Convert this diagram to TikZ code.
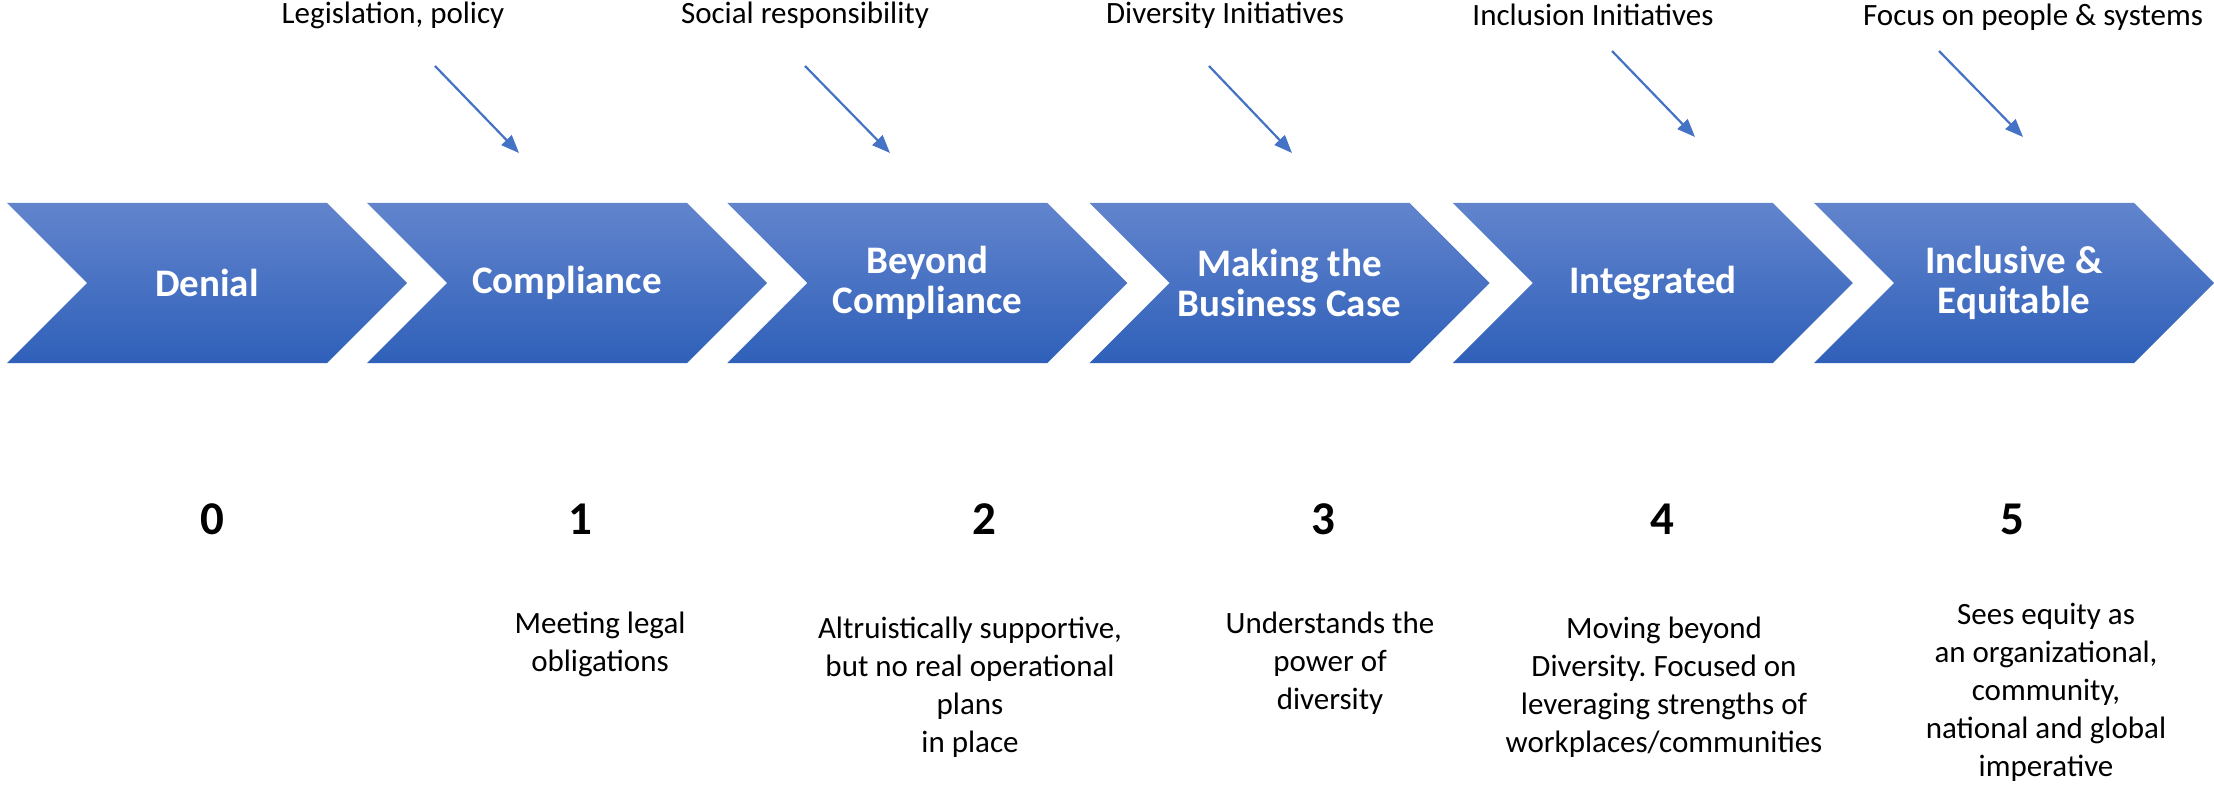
\documentclass[tikz,border=0pt]{standalone}
\usepackage{fontspec}
\setmainfont{Carlito}
\frenchspacing
\usepackage{tikz}
\usetikzlibrary{arrows.meta,shapes.symbols}
\definecolor{chevtop}{RGB}{98,132,205}
\definecolor{chevbot}{RGB}{47,96,185}
\definecolor{arrblue}{RGB}{68,114,196}
\tikzset{
  chev_n/.style = {signal, signal from=west, signal to=east,
    signal pointer angle=90, minimum width=200pt, minimum height=80pt,
    inner sep=0pt, top color=chevtop, bottom color=chevbot, text=white,
    align=center, font=\fontsize{19.5}{20}\selectfont\bfseries},% stage chevron
  lbl_top/.style = {anchor=base, inner sep=0pt,
    font=\fontsize{15.5}{19}\selectfont},% driver above the chevrons
  lbl_num/.style = {inner sep=0pt, font=\fontsize{23.5}{28}\selectfont\bfseries},% stage number
  lbl_txt/.style = {anchor=north, inner sep=0pt, align=center,
    font=\fontsize{15.5}{19}\selectfont}% stage description
}

\begin{document}
\begin{tikzpicture}[x=0.5pt,y=-0.5pt,>={Triangle[length=9pt,width=7pt]}]
    \useasboundingbox (0,0) rectangle (2214,786);
    % chevrons
    \node [chev_n] (denial) at (207,283) {Denial};
    \node [chev_n] (compl)  at (567,283) {Compliance};
    \node [chev_n] (beyond) at (927.4,283) {Beyond\\Compliance};
    \node [chev_n] (bcase)  at (1289.6,283) {Making the\\Business Case};
    \node [chev_n] (integ)  at (1652.8,283) {Integrated};
    \node [chev_n] (incl)   at (2014,283) {Inclusive \&\\Equitable};
    % drivers
    \node [lbl_top] (legis)  at (393,24) {Legislation, policy};
    \node [lbl_top] (social) at (805,24) {Social responsibility};
    \node [lbl_top] (divin)  at (1225,24) {Diversity Initiatives};
    \node [lbl_top] (inclin) at (1593,26) {Inclusion Initiatives};
    \node [lbl_top] (focus)  at (2033,26) {Focus on people \& systems};
    \coordinate (a1s) at (435,66);   \coordinate (a1e) at (519,153);
    \coordinate (a2s) at (805,66);   \coordinate (a2e) at (890,153);
    \coordinate (a3s) at (1209,66);  \coordinate (a3e) at (1292,153);
    \coordinate (a4s) at (1612,51);  \coordinate (a4e) at (1695,137);
    \coordinate (a5s) at (1939,51);  \coordinate (a5e) at (2023,137);
    \foreach \a in {a1,a2,a3,a4,a5}
      \draw [->, arrblue, line width=1.1pt] (\a s) -- (\a e);
    % numbers
    \node [lbl_num] (n0) at (212,519) {0};
    \node [lbl_num] (n1) at (580,519) {1};
    \node [lbl_num] (n2) at (984,519) {2};
    \node [lbl_num] (n3) at (1323,519) {3};
    \node [lbl_num] (n4) at (1662,519) {4};
    \node [lbl_num] (n5) at (2012,519) {5};
    % descriptions
    \node [lbl_txt] (d1) at (600,612) {Meeting legal\\obligations};
    \node [lbl_txt] (d2) at (970,617) {Altruistically supportive,\\but no real operational\\plans\\in place};
    \node [lbl_txt] (d3) at (1330,612) {Understands the\\power of\\diversity};
    \node [lbl_txt] (d4) at (1664,617) {Moving beyond\\Diversity. Focused on\\leveraging strengths of\\workplaces/communities};
    \node [lbl_txt] (d5) at (2046,603) {Sees equity as\\an organizational,\\community,\\national and global\\imperative};
\end{tikzpicture}
\end{document}
